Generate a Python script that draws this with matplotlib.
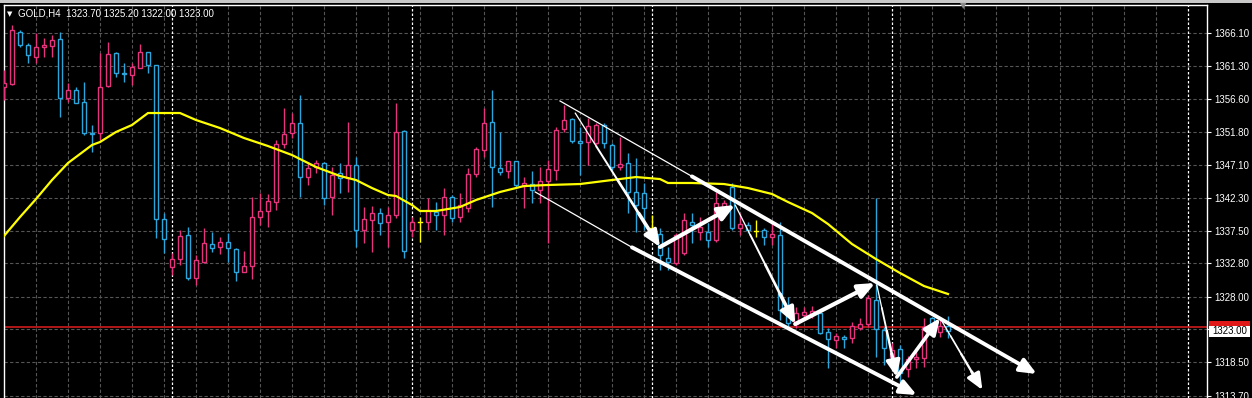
import matplotlib
matplotlib.use("Agg")
import matplotlib.pyplot as plt
from matplotlib.patches import Rectangle

# ---------------- data ----------------
opens = [1358.30, 1358.73, 1366.25, 1364.37, 1362.63, 1364.08, 1364.22, 1365.23, 1356.71, 1357.86,
         1356.13, 1351.65, 1351.65, 1358.44, 1363.21, 1360.32, 1360.03, 1361.04, 1363.36, 1361.48,
         1339.22, 1332.29, 1333.44, 1336.91, 1330.70, 1333.01, 1335.61, 1335.18, 1335.90, 1334.89,
         1331.57, 1332.43, 1339.51, 1340.38, 1341.68, 1350.06, 1351.65, 1353.10, 1345.29, 1346.74,
         1347.32, 1342.40, 1345.87, 1345.15, 1347.03, 1337.63, 1339.08, 1340.09, 1338.79, 1339.80,
         1351.94, 1337.63, 1338.79, 1338.79, 1340.24, 1339.80, 1342.40, 1339.51, 1340.81, 1345.73,
         1349.19, 1353.24, 1346.59, 1346.16, 1347.61, 1343.99, 1344.28, 1343.41, 1344.72, 1346.30,
         1352.23, 1353.67, 1350.50, 1350.35, 1350.21, 1352.81, 1349.92, 1346.74, 1347.32, 1343.13,
         1342.98, 1337.92, 1337.06, 1333.59, 1332.87, 1334.31, 1338.79, 1337.35, 1337.35, 1336.19,
         1340.96, 1343.85, 1337.92, 1338.36, 1337.49, 1337.63, 1336.62, 1336.91, 1325.79, 1324.05,
         1325.35, 1325.50, 1325.64, 1322.90, 1321.74, 1322.17, 1322.03, 1323.47, 1324.05, 1327.52,
         1323.18, 1319.28, 1320.44, 1317.55, 1318.99, 1319.14, 1324.92, 1322.90, 1323.70]
highs = [1360.75, 1367.26, 1366.53, 1364.66, 1366.10, 1365.38, 1365.81, 1366.25, 1358.88, 1358.30,
         1359.02, 1352.81, 1363.21, 1364.80, 1363.36, 1361.77, 1361.77, 1364.51, 1363.36, 1361.48,
         1340.09, 1334.31, 1337.63, 1338.07, 1334.02, 1337.92, 1337.35, 1336.62, 1337.20, 1335.03,
         1334.60, 1342.40, 1342.98, 1342.84, 1350.64, 1355.26, 1354.54, 1357.14, 1347.32, 1347.75,
         1347.46, 1346.74, 1347.32, 1353.24, 1348.18, 1340.96, 1341.10, 1340.81, 1340.96, 1355.99,
         1352.08, 1339.51, 1339.51, 1342.26, 1341.68, 1343.70, 1342.69, 1342.98, 1346.59, 1349.63,
         1355.26, 1357.86, 1351.80, 1347.61, 1347.61, 1345.29, 1346.16, 1346.74, 1347.75, 1352.52,
         1355.70, 1353.82, 1352.52, 1353.82, 1353.10, 1353.10, 1350.21, 1351.07, 1348.76, 1348.04,
         1344.43, 1339.80, 1337.92, 1335.18, 1337.20, 1340.09, 1340.09, 1339.51, 1338.65, 1343.13,
         1341.97, 1344.43, 1340.09, 1338.79, 1339.08, 1337.92, 1338.79, 1338.79, 1327.95, 1326.51,
         1326.51, 1326.65, 1325.79, 1323.47, 1322.75, 1322.46, 1324.34, 1324.92, 1328.24, 1342.26,
         1323.62, 1321.31, 1321.02, 1319.43, 1320.58, 1324.92, 1325.06, 1324.92, 1325.20]
lows = [1356.42, 1358.59, 1364.08, 1361.77, 1361.77, 1362.63, 1362.63, 1353.96, 1356.13, 1355.99,
        1351.36, 1348.91, 1350.64, 1358.30, 1359.74, 1359.02, 1358.59, 1361.04, 1360.32, 1336.48,
        1334.31, 1331.13, 1332.58, 1330.41, 1329.69, 1332.87, 1334.46, 1334.17, 1333.01, 1330.27,
        1331.57, 1330.55, 1338.36, 1338.07, 1340.52, 1349.48, 1350.93, 1342.40, 1344.14, 1345.87,
        1341.25, 1339.80, 1342.98, 1343.13, 1335.18, 1335.76, 1334.46, 1336.91, 1335.18, 1339.37,
        1333.59, 1336.62, 1335.90, 1337.63, 1337.63, 1336.91, 1338.79, 1338.79, 1340.24, 1345.29,
        1348.18, 1340.96, 1345.58, 1345.15, 1343.85, 1340.81, 1341.54, 1341.54, 1335.76, 1344.86,
        1351.80, 1350.21, 1345.58, 1347.03, 1349.63, 1349.48, 1346.30, 1346.30, 1340.09, 1337.35,
        1337.63, 1336.62, 1331.85, 1331.85, 1332.58, 1334.02, 1335.76, 1336.19, 1335.18, 1335.90,
        1339.37, 1337.63, 1336.91, 1337.20, 1336.62, 1335.47, 1335.47, 1324.63, 1323.62, 1323.47,
        1324.63, 1324.92, 1322.61, 1317.69, 1320.58, 1320.58, 1321.31, 1323.18, 1323.62, 1319.28,
        1318.13, 1318.56, 1315.53, 1316.39, 1317.69, 1317.84, 1322.46, 1322.17, 1322.00]
closes = [1358.88, 1366.53, 1364.37, 1362.92, 1364.08, 1364.37, 1365.09, 1356.71, 1357.86, 1355.99,
          1351.65, 1351.51, 1358.30, 1363.07, 1360.32, 1360.18, 1361.19, 1363.36, 1361.48, 1339.22,
          1336.33, 1333.44, 1336.77, 1330.70, 1333.30, 1335.76, 1335.03, 1335.90, 1335.03, 1331.57,
          1332.43, 1339.51, 1340.38, 1341.83, 1350.06, 1351.51, 1353.10, 1345.29, 1346.59, 1347.32,
          1342.26, 1345.58, 1345.15, 1347.03, 1337.63, 1339.22, 1340.09, 1338.65, 1339.80, 1351.80,
          1334.60, 1338.79, 1338.79, 1340.52, 1339.80, 1342.40, 1339.37, 1341.25, 1345.73, 1349.34,
          1353.10, 1346.74, 1346.02, 1347.61, 1344.14, 1344.43, 1343.41, 1344.72, 1346.45, 1352.08,
          1353.53, 1350.50, 1350.21, 1352.66, 1352.81, 1350.21, 1346.74, 1347.17, 1343.13, 1341.25,
          1340.81, 1337.92, 1334.02, 1333.01, 1336.91, 1339.08, 1338.36, 1338.07, 1336.19, 1341.54,
          1341.54, 1337.92, 1338.50, 1337.63, 1337.49, 1336.62, 1337.06, 1326.07, 1324.20, 1325.64,
          1325.79, 1325.93, 1322.75, 1321.88, 1322.32, 1321.88, 1323.76, 1324.05, 1327.81, 1323.33,
          1320.58, 1320.29, 1316.97, 1318.99, 1319.28, 1323.62, 1323.18, 1323.76, 1323.00]

# moving average (yellow) read at these bar indices
ma_bars = [0, 2, 4, 6, 8, 10, 11, 12, 14, 16, 18, 22, 24, 27, 30, 33, 36, 39, 42, 44, 46, 48, 49,
           51, 52, 54, 57, 59, 62, 65, 68, 72, 76, 79, 82, 83, 86, 90, 93, 96, 98, 101, 103, 106,
           109, 112, 115, 118]
ma_vals = [1336.77, 1339.51, 1342.11, 1344.86, 1347.32, 1349.05, 1349.92, 1350.35, 1351.80, 1352.81,
           1354.54, 1354.54, 1353.53, 1352.37, 1350.93, 1349.77, 1348.47, 1346.74, 1345.44, 1344.86,
           1343.70, 1342.69, 1342.55, 1341.25, 1340.38, 1340.38, 1340.96, 1341.97, 1343.13, 1343.99,
           1344.14, 1344.28, 1344.86, 1345.29, 1345.00, 1344.43, 1344.43, 1344.28, 1343.70, 1342.84,
           1341.68, 1340.09, 1338.50, 1335.61, 1333.44, 1331.42, 1329.54, 1328.39]

ytick_vals = [1366.10, 1361.30, 1356.60, 1351.80, 1347.10, 1342.30, 1337.50, 1332.80, 1328.00,
              1323.30, 1318.50, 1313.70]
ytick_labels = ["1366.10", "1361.30", "1356.60", "1351.80", "1347.10", "1342.30", "1337.50",
                "1332.80", "1328.00", "", "1318.50", "1313.70"]

separator_bars = [21, 51, 81, 111, 148]
grid_bars = [b for b in range(4, 150, 4) if b not in separator_bars]

bid_price = 1323.00
bid_label = "1323.00"
red_line_price = 1323.65
title_text = "GOLD,H4  1323.70 1325.20 1322.00 1323.00"

# drawn objects (bar index, price)
upper_thin = [(69.5, 1356.28), (87.0, 1344.72)]
upper_thick = [(86.0, 1345.38), (129.1, 1316.83)]
lower_thin = [(66.4, 1343.13), (79.0, 1334.80)]
lower_thick = [(78.5, 1335.13), (114.1, 1313.79)]
# (start, end, final width, tapered)
swing_arrows = [((71.4, 1354.54), (82.0, 1335.18), 2.6, True),
                ((82.0, 1335.18), (91.4, 1341.25), 3.0, False),
                ((91.4, 1341.25), (98.9, 1324.05), 2.6, True),
                ((98.9, 1324.05), (108.9, 1329.98), 3.0, False),
                ((109.1, 1329.70), (111.6, 1316.39), 2.4, True),
                ((111.6, 1316.39), (117.0, 1324.92), 2.6, False),
                ((117.0, 1324.92), (122.3, 1314.52), 2.2, True)]

# ---------------- style ----------------
W, H, DPI = 1252, 398, 100
PINK = "#e5337c"
BLUE = "#2aa6dd"
YELLOW = "#ffff00"
GRID = "#555555"

fig = plt.figure(figsize=(W / DPI, H / DPI), dpi=DPI, facecolor="black")
ax = fig.add_axes([3.5 / W, 0, (1207 - 3.5) / W, (H - 5) / H])
ax.set_facecolor("black")
ax.set_xlim(-0.0625, 150.375)
ax.set_ylim(1313.36, 1370.15)

# grid
for y in ytick_vals:
    ax.axhline(y, color=GRID, lw=0.8, dashes=(3, 2), zorder=0)
for b in grid_bars:
    ax.axvline(b, color=GRID, lw=0.8, dashes=(3, 2), zorder=0)
for b in separator_bars:
    ax.axvline(b, color="white", lw=0.9, dashes=(2, 1.6), zorder=1)

# red line
ax.axhline(red_line_price, color="#e01c1c", lw=1.1, zorder=1)

# candles
bw = 0.55
for i, (o, h, l, c) in enumerate(zip(opens, highs, lows, closes)):
    if abs(c - o) < 0.05:
        col = YELLOW
    elif c > o:
        col = PINK
    else:
        col = BLUE
    ax.plot([i, i], [l, h], color=col, lw=1.0, solid_capstyle="butt", zorder=3)
    if col == YELLOW:
        ax.plot([i - bw / 2, i + bw / 2], [o, o], color=col, lw=1.0, zorder=4)
    else:
        lo, hi = min(o, c), max(o, c)
        ax.add_patch(Rectangle((i - bw / 2, lo), bw, max(hi - lo, 0.08),
                               facecolor="black", edgecolor=col, lw=1.0, zorder=4))

# moving average
ax.plot(ma_bars, ma_vals, color=YELLOW, lw=1.6, zorder=5)

# channel lines
ax.plot(*zip(*upper_thin), color="white", lw=0.9, zorder=6)
ax.plot(*zip(*lower_thin), color="white", lw=0.9, zorder=6)
head = "-|>,head_length=0.7,head_width=0.3"
for seg in (upper_thick, lower_thick):
    ax.annotate("", xy=seg[1], xytext=seg[0],
                arrowprops=dict(arrowstyle=head, color="white", lw=2.8, mutation_scale=14,
                                shrinkA=0, shrinkB=0), zorder=6)
for start, end, lw, tapered in swing_arrows:
    (x0, y0), (x1, y1) = start, end
    if tapered:
        steps = 4
        for k in range(steps - 1):
            a, b = k / steps, (k + 1) / steps
            ax.plot([x0 + (x1 - x0) * a, x0 + (x1 - x0) * b],
                    [y0 + (y1 - y0) * a, y0 + (y1 - y0) * b],
                    color="white", lw=0.7 + (lw - 0.7) * (k + 0.5) / steps,
                    solid_capstyle="round", zorder=7)
        s = (x0 + (x1 - x0) * (steps - 1) / steps, y0 + (y1 - y0) * (steps - 1) / steps)
    else:
        s = start
    ax.annotate("", xy=end, xytext=s,
                arrowprops=dict(arrowstyle=head, color="white", lw=lw, mutation_scale=14,
                                shrinkA=0, shrinkB=0), zorder=7)

# axes look
for s in ["left", "top", "right"]:
    ax.spines[s].set_color("white")
    ax.spines[s].set_linewidth(1.0)
ax.spines["bottom"].set_visible(False)
ax.set_xticks([])
ax.yaxis.tick_right()
ax.set_yticks(ytick_vals)
ax.set_yticklabels(ytick_labels, fontsize=7, color="white", fontfamily="Liberation Sans")
ax.tick_params(axis="y", direction="out", length=3, width=0.8, color="white", pad=2)

# price label boxes on the right scale (red ask strip behind white bid box)
trans = ax.get_yaxis_transform()
box_x0, box_w = 1.0017, 0.034
ax.add_patch(Rectangle((box_x0, bid_price + 0.75), box_w, 0.75, transform=trans,
                       facecolor="#e01818", edgecolor="none", clip_on=False, zorder=8))
ax.add_patch(Rectangle((box_x0, bid_price - 0.83), box_w, 1.6, transform=trans,
                       facecolor="white", edgecolor="none", clip_on=False, zorder=9))
ax.text(box_x0 + 0.003, bid_price, bid_label, transform=trans, fontsize=7,
        fontfamily="Liberation Sans", color="black", va="center", ha="left",
        clip_on=False, zorder=10)

# title and window chrome
fig.text(7 / W, 1 - 14 / H, "\u25BC", fontsize=5, color="white", va="center", ha="left",
         fontfamily="DejaVu Sans")
fig.text(18 / W, 1 - 14 / H, title_text, fontsize=7, color="white", va="center", ha="left",
         fontfamily="Liberation Sans")
fig.patches.append(Rectangle((0, 1 - 3 / H), 1, 3 / H, transform=fig.transFigure,
                             facecolor="#c8c8c8", edgecolor="none"))
fig.text(963 / W, 1 - 6 / H, "\u25BC", fontsize=6, color="#8a8a8a", va="center", ha="center",
         fontfamily="DejaVu Sans")

fig.savefig("out.png", dpi=DPI, facecolor="black")
